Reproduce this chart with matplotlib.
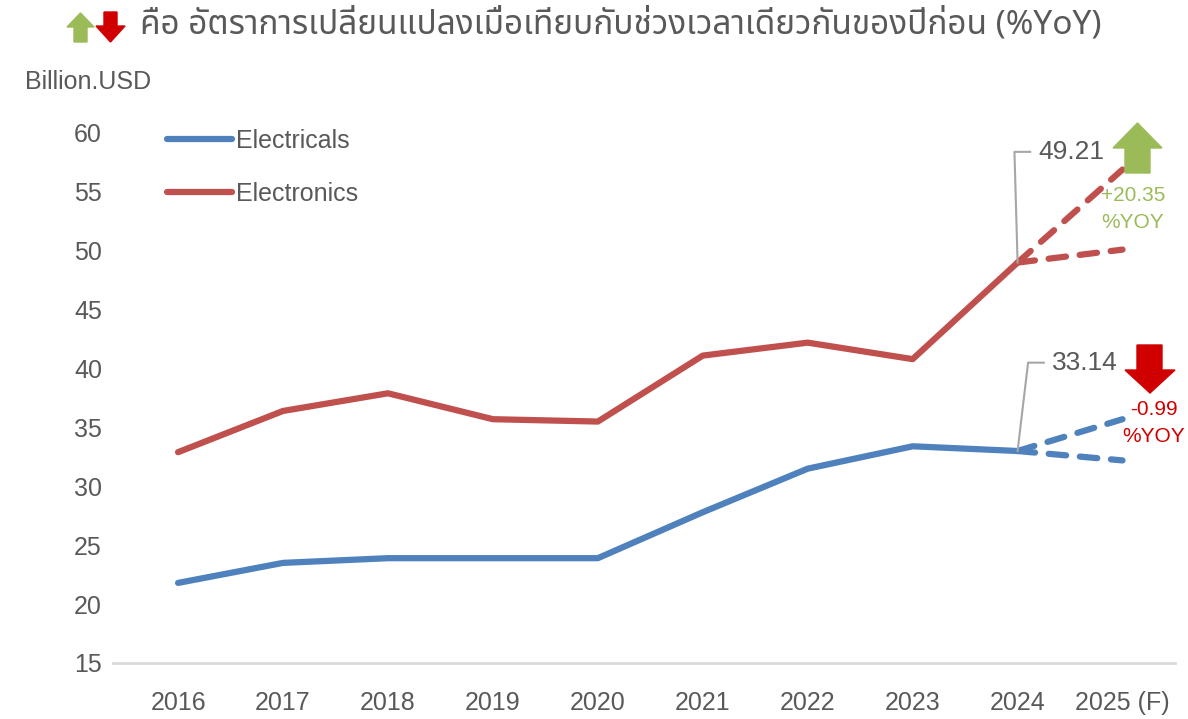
import matplotlib
matplotlib.use('Agg')
import matplotlib.pyplot as plt
from matplotlib.patches import Polygon
from matplotlib import font_manager

years = ['2016', '2017', '2018', '2019', '2020', '2021', '2022', '2023', '2024', '2025 (F)']
electricals = [21.8, 23.5, 23.9, 23.9, 23.9, 27.8, 31.5, 33.4, 33.0]
electronics = [32.9, 36.4, 37.9, 35.7, 35.5, 41.1, 42.2, 40.8, 49.0]
elec_fc_high = [33.0, 35.7]
elec_fc_low = [33.0, 32.2]
tron_fc_high = [49.0, 56.9]
tron_fc_low = [49.0, 50.1]
yticks = [15, 20, 25, 30, 35, 40, 45, 50, 55, 60]

title_text = 'คือ อัตราการเปลี่ยนแปลงเมื่อเทียบกับช่วงเวลาเดียวกันของปีก่อน (%YoY)'

installed = {f.name for f in font_manager.fontManager.ttflist}
base = [f for f in ['Liberation Sans Narrow', 'Liberation Sans', 'DejaVu Sans'] if f in installed]
thai = [f for f in ['Noto Sans Thai', 'Noto Sans Thai Looped', 'Loma', 'Garuda', 'Waree',
                    'Tlwg Typo', 'Sarabun', 'Norasi', 'Kinnari', 'DejaVu Sans'] if f in installed]
plt.rcParams['font.family'] = base

BLUE = '#4F81BD'
RED = '#C0504D'
GREEN = '#9BBB59'
DARKRED = '#D00000'
GRAY = '#595959'

W, H = 1188, 719
fig = plt.figure(figsize=(W / 100, H / 100), dpi=100)
ax = fig.add_axes([113 / W, 1 - 663 / H, (1175 - 113) / W, (663 - 133) / H])

x = list(range(len(years)))
ax.plot(x[:9], electricals, color=BLUE, lw=4.5, solid_capstyle='round', solid_joinstyle='round',
        label='Electricals')
ax.plot(x[:9], electronics, color=RED, lw=4.5, solid_capstyle='round', solid_joinstyle='round',
        label='Electronics')
for vals, c in [(elec_fc_high, BLUE), (elec_fc_low, BLUE), (tron_fc_high, RED), (tron_fc_low, RED)]:
    ax.plot(x[8:], vals, color=c, lw=4.5, ls=(0, (2.8, 2.2)), dash_capstyle='round')

ax.set_xlim(-0.62, 9.5)
ax.set_ylim(15, 60)
ax.set_yticks(yticks)
ax.set_xticks(x)
ax.set_xticklabels(years)
ax.tick_params(axis='both', length=0, labelsize=18, colors=GRAY)
ax.tick_params(axis='x', pad=20)
ax.tick_params(axis='y', pad=8)
for s in ['top', 'right', 'left']:
    ax.spines[s].set_visible(False)
ax.spines['bottom'].set_color('#D9D9D9')
ax.spines['bottom'].set_linewidth(2)

leg = ax.legend(loc='upper left', bbox_to_anchor=(0.03, 1.05), frameon=False, fontsize=18,
                handlelength=2.6, handletextpad=0.15, labelspacing=1.15, labelcolor=GRAY)

# callouts for 2024 values
ax.plot([8, 7.97, 8.12], [electronics[8], 58.4, 58.4], color='#A6A6A6', lw=1.5)
ax.text(8.2, 58.4, '49.21', fontsize=19, color=GRAY, va='center', ha='left')
ax.plot([8, 8.1, 8.25], [electricals[8], 40.5, 40.5], color='#A6A6A6', lw=1.5)
ax.text(8.33, 40.5, '33.14', fontsize=19, color=GRAY, va='center', ha='left')

ax.text(9.1, 54.7, '+20.35', fontsize=15, color=GREEN, ha='center', va='center')
ax.text(9.1, 52.4, '%YOY', fontsize=15, color=GREEN, ha='center', va='center')
ax.text(9.3, 36.5, '-0.99', fontsize=15, color=DARKRED, ha='center', va='center')
ax.text(9.3, 34.2, '%YOY', fontsize=15, color=DARKRED, ha='center', va='center')


def block_arrow(x0, x1, sx0, sx1, y_tail, y_head, y_tip, color):
    pts = [(sx0, y_tail), (sx1, y_tail), (sx1, y_head), (x1, y_head), ((x0 + x1) / 2, y_tip),
           (x0, y_head), (sx0, y_head)]
    fig.patches.append(Polygon([(px / W, 1 - py / H) for px, py in pts], closed=True,
                               transform=fig.transFigure, color=color, zorder=5))


block_arrow(1113, 1162, 1125, 1150, 173, 148, 123, GREEN)
block_arrow(1125, 1175, 1137, 1162, 345, 370, 393, DARKRED)
block_arrow(67, 94, 74, 87, 42, 27, 13, GREEN)
block_arrow(96, 125, 104, 117, 12, 26, 42, DARKRED)

fig.text(140 / W, 1 - 25 / H, title_text, fontsize=24, color=GRAY, va='center', ha='left',
         family=thai + base)
fig.text(25 / W, 1 - 82 / H, 'Billion.USD', fontsize=18, color=GRAY, va='center', ha='left')

fig.savefig('out.png', dpi=100)
